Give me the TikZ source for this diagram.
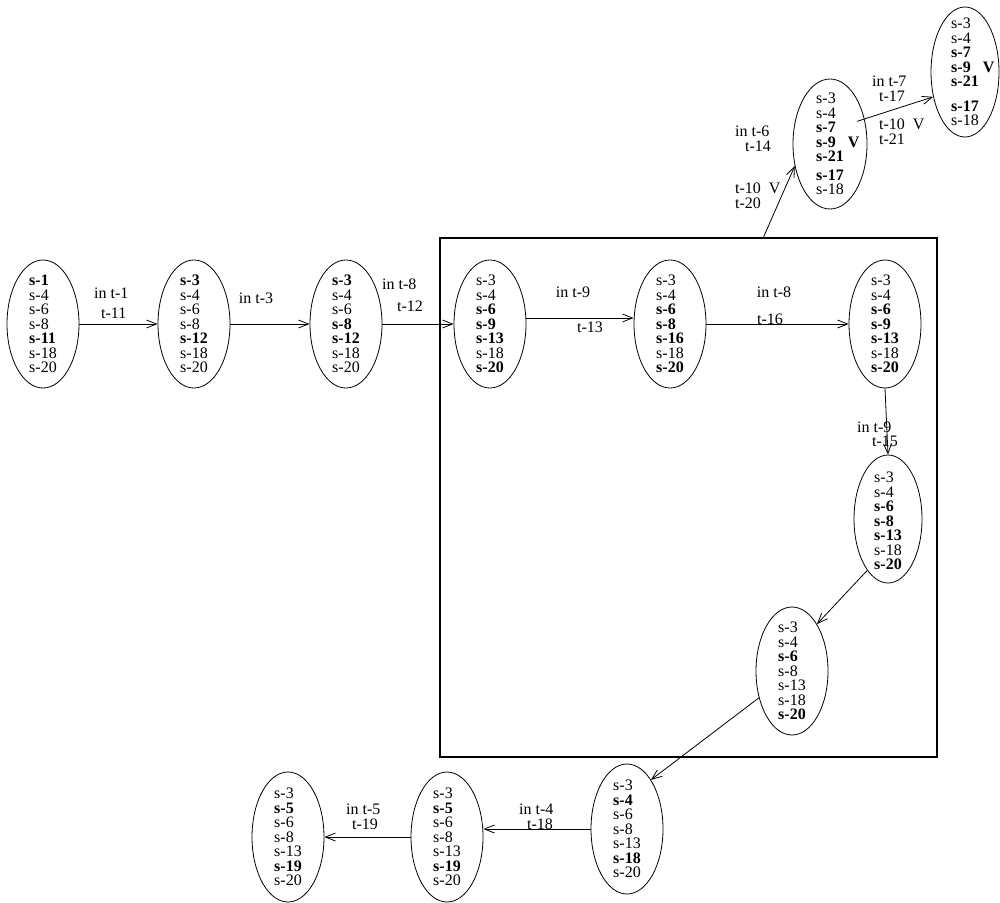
\documentclass[tikz,border=0pt]{standalone}
\usepackage{fontspec}
\setmainfont{Liberation Serif}
\usetikzlibrary{shapes.geometric,arrows.meta}
\begin{document}
\begin{tikzpicture}[x=1pt,y=-1pt,
  st/.style={draw, ellipse, line width=0.8pt, minimum width=72pt, minimum height=128pt, inner sep=0pt},
  txt/.style={align=left, inner sep=0pt, font=\fontsize{16}{14.5}\selectfont},
  lbl/.style={inner sep=0pt, font=\fontsize{16}{16}\selectfont},
  lblb/.style={inner sep=0pt, anchor=north west, align=left, font=\fontsize{16}{#1}\selectfont},
  arr/.style={-{Straight Barb[length=10pt,width=8pt]}, line width=0.8pt},
  boxst/.style={draw, line width=1.2pt, minimum width=497pt, minimum height=519pt, inner sep=0pt}]
\useasboundingbox (0,0) rectangle (1000,902);

% enclosing box
\node[boxst] (box) at (688.5,497.5) {};
\coordinate (bt) at ([xshift=324pt]box.north west);

% states
\node[st] (A) at (43,324) {};
\node[txt] (tA) at (A) {\textbf{s-1}\\s-4\\s-6\\s-8\\\textbf{s-11}\\s-18\\s-20};
\node[st] (B) at (194,324) {};
\node[txt] (tB) at (B) {\textbf{s-3}\\s-4\\s-6\\s-8\\\textbf{s-12}\\s-18\\s-20};
\node[st] (C) at (346,324) {};
\node[txt] (tC) at (C) {\textbf{s-3}\\s-4\\s-6\\\textbf{s-8}\\\textbf{s-12}\\s-18\\s-20};
\node[st] (D) at (490,324) {};
\node[txt] (tD) at (D) {s-3\\s-4\\\textbf{s-6}\\\textbf{s-9}\\\textbf{s-13}\\s-18\\\textbf{s-20}};
\node[st] (E) at (670,324) {};
\node[txt] (tE) at (E) {s-3\\s-4\\\textbf{s-6}\\\textbf{s-8}\\\textbf{s-16}\\s-18\\\textbf{s-20}};
\node[st] (F) at (885,324) {};
\node[txt] (tF) at (F) {s-3\\s-4\\\textbf{s-6}\\\textbf{s-9}\\\textbf{s-13}\\s-18\\\textbf{s-20}};
\node[st, minimum width=68pt] (G) at (888,519) {};
\node[txt] (tG) at ([yshift=-2pt]G.center) {s-3\\s-4\\\textbf{s-6}\\\textbf{s-8}\\\textbf{s-13}\\s-18\\\textbf{s-20}};
\node[st] (H) at (792,671) {};
\node[txt] (tH) at (H) {s-3\\s-4\\\textbf{s-6}\\s-8\\s-13\\s-18\\\textbf{s-20}};
\node[st, minimum height=130pt] (I) at (627,829) {};
\node[txt] (tI) at (I) {s-3\\\textbf{s-4}\\s-6\\s-8\\s-13\\\textbf{s-18}\\s-20};
\node[st, minimum height=130pt] (J) at (447,837) {};
\node[txt] (tJ) at (J) {s-3\\\textbf{s-5}\\s-6\\s-8\\s-13\\\textbf{s-19}\\s-20};
\node[st, minimum height=130pt] (K) at (288,837) {};
\node[txt] (tK) at (K) {s-3\\\textbf{s-5}\\s-6\\s-8\\s-13\\\textbf{s-19}\\s-20};
\node[st, minimum width=74pt, minimum height=130pt] (L) at (830,144) {};
\node[txt] (tL) at (L) {s-3\\s-4\\\textbf{s-7}\\\textbf{s-9}\rlap{\hspace{12pt}\textbf{V}}\\\textbf{s-21}\\[4pt]\textbf{s-17}\\s-18};
\node[st, minimum width=68pt, minimum height=130pt] (M) at (965,72) {};
\node[txt] (tM) at (M) {s-3\\s-4\\\textbf{s-7}\\\textbf{s-9}\rlap{\hspace{12pt}\textbf{V}}\\\textbf{s-21}\\[10pt]\textbf{s-17}\\s-18};

% transitions
\draw[arr] (A) -- (B);
\draw[arr] (B) -- (C);
\draw[arr] (C) -- (D);
\draw[arr] ([yshift=6pt]D.east) -- ([yshift=6pt]E.west);
\draw[arr] (E) -- (F);
\draw[arr] (F.south) -- (G.north);
\draw[arr] (G.-112) -- (H.62);
\draw[arr] (H.-141) -- (I.64);
\draw[arr] (I.west) -- (I.west -| J.east);
\draw[arr] (J) -- (K);
\draw[arr] (bt) -- (L.-148);
\draw[arr] ([shift={(-7pt,-4pt)}]L.38) -- (M.-142);

% labels
\node[lblb=20] (a1) at (94,287.5) {in t-1\\\hspace{7pt}t-11};
\node[lbl] (b1) at (256,298) {in t-3};
\node[lblb=22] (c1) at (382,278.5) {in t-8\\\hspace{15pt}t-12};
\node[lbl] (d1) at (573,292) {in t-9};
\node[lbl] (d2) at (590,327) {t-13};
\node[lbl] (e1) at (774,292) {in t-8};
\node[lbl] (e2) at (770,319) {t-16};
\node[lblb=14.5] (f1) at (857,421.5) {in t-9\\\hspace{15pt}t-15};
\node[lblb=14.5] (l1) at (735,126) {in t-6\\\hspace{10pt}t-14};
\node[lblb=14.5] (l3) at (735,183) {t-10\ \ V\\t-20};
\node[lblb=14.5] (m1) at (872,76) {in t-7\\\hspace{7pt}t-17};
\node[lblb=14.5] (m3) at (879,119) {t-10\ \ V\\t-21};
\node[lblb=14.5] (j1) at (346,804) {in t-5\\\hspace{6pt}t-19};
\node[lblb=14.5] (i1) at (519,804) {in t-4\\\hspace{8pt}t-18};
\end{tikzpicture}
\end{document}
